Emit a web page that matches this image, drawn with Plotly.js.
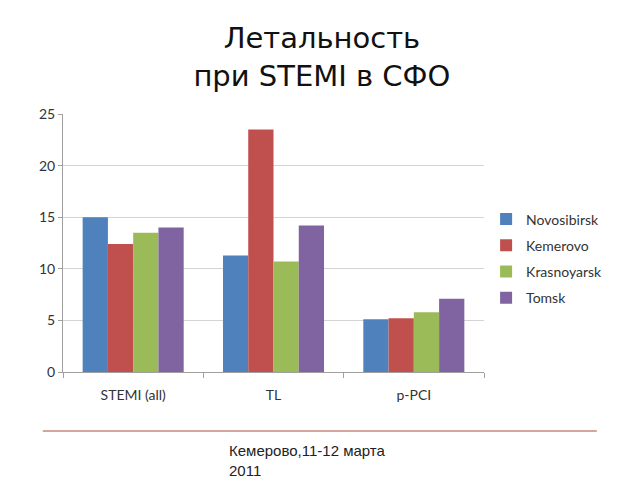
<!DOCTYPE html>
<html>
<head>
<meta charset="utf-8">
<script src="https://cdn.plot.ly/plotly-3.0.1.min.js"></script>
<style>
  body { margin: 0; background: #fff; }
  #chart { width: 640px; height: 480px; }
</style>
</head>
<body>
<div id="chart"></div>
<script>
const categories = ["STEMI (all)", "TL", "p-PCI"];
const novosibirsk = [15.0, 11.3, 5.1];
const kemerovo = [12.4, 23.5, 5.2];
const krasnoyarsk = [13.5, 10.7, 5.8];
const tomsk = [14.0, 14.2, 7.1];
const seriesNames = ["Novosibirsk", "Kemerovo", "Krasnoyarsk", "Tomsk"];
const colors = ["#4f81bd", "#c0504d", "#9bbb59", "#8064a2"];

const values = [novosibirsk, kemerovo, krasnoyarsk, tomsk];

const data = values.map((v, i) => ({
    x: categories,
    y: v,
    name: seriesNames[i],
    type: "bar",
    legendgroup: "g" + i,
    marker: { color: colors[i] }
}));

const layout = {
    width: 640,
    height: 480,
    paper_bgcolor: "#fff",
    plot_bgcolor: "#fff",
    margin: { l: 63, r: 156, t: 114, b: 108 },
    barmode: "group",
    bargap: 0.28,
    bargroupgap: 0,
    font: { family: "Lato, 'Open Sans', sans-serif", size: 14, color: "#404040" },
    title: {
        text: "Летальность<br>при STEMI в СФО",
        font: { family: "'DejaVu Sans', sans-serif", size: 29, color: "#111" },
        xref: "container",
        x: 0.503,
        xanchor: "center",
        yref: "container",
        y: 0.9,
        yanchor: "top"
    },
    xaxis: {
        type: "category",
        tickson: "boundaries",
        ticks: "outside",
        ticklen: 5,
        tickcolor: "#a0a0a0",
        ticklabelstandoff: 10,
        showline: true,
        linecolor: "#a0a0a0",
        showgrid: false,
        tickfont: { size: 14, color: "#333" }
    },
    yaxis: {
        range: [0, 25],
        dtick: 5,
        ticks: "outside",
        ticklen: 4,
        tickcolor: "#a0a0a0",
        showline: true,
        linecolor: "#a0a0a0",
        gridcolor: "#d4d4d4",
        zeroline: false,
        tickfont: { size: 14, color: "#333" }
    },
    legend: {
        x: 1.005,
        xanchor: "left",
        y: 0.44,
        yanchor: "middle",
        traceorder: "grouped",
        tracegroupgap: 5,
        itemwidth: 30,
        font: { size: 14, color: "#333" }
    },
    shapes: [{
        type: "line",
        xref: "paper", yref: "paper",
        x0: -0.048, x1: 1.268,
        y0: -0.229, y1: -0.229,
        line: { color: "#d4a59c", width: 2 }
    }],
    annotations: [{
        text: "Кемерово,11-12 марта<br>2011",
        xref: "paper", yref: "paper",
        x: 0.389, y: -0.262,
        xanchor: "left", yanchor: "top",
        align: "left",
        showarrow: false,
        font: { family: "'Liberation Sans', Arial, sans-serif", size: 15, color: "#222" }
    }]
};

Plotly.newPlot("chart", data, layout, { displayModeBar: false, staticPlot: true });
</script>
</body>
</html>
